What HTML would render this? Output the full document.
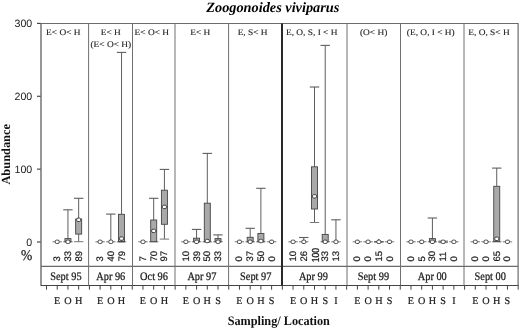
<!DOCTYPE html>
<html><head><meta charset="utf-8"><style>
html,body{margin:0;padding:0;background:#fff;}
body{width:520px;height:328px;overflow:hidden;}
svg{display:block;filter:grayscale(1);text-rendering:geometricPrecision;}
</style></head><body>
<svg width="520" height="328" viewBox="0 0 520 328">
<rect width="520" height="328" fill="#fff"/>
<text x="272.8" y="11.7" font-family="'Liberation Serif', serif" font-size="14.3" font-weight="bold" font-style="italic" text-anchor="middle" fill="#000">Zoogonoides viviparus</text>
<text x="32.2" y="27.20" font-family="'Liberation Sans', sans-serif" font-size="10.6" text-anchor="end" fill="#222">300</text>
<line x1="37" y1="23.40" x2="41.0" y2="23.40" stroke="#3a3a3a" stroke-width="1.1"/>
<text x="32.2" y="100.07" font-family="'Liberation Sans', sans-serif" font-size="10.6" text-anchor="end" fill="#222">200</text>
<line x1="37" y1="96.27" x2="41.0" y2="96.27" stroke="#3a3a3a" stroke-width="1.1"/>
<text x="32.2" y="172.93" font-family="'Liberation Sans', sans-serif" font-size="10.6" text-anchor="end" fill="#222">100</text>
<line x1="37" y1="169.13" x2="41.0" y2="169.13" stroke="#3a3a3a" stroke-width="1.1"/>
<text x="32.2" y="245.80" font-family="'Liberation Sans', sans-serif" font-size="10.6" text-anchor="end" fill="#222">0</text>
<line x1="37" y1="242.00" x2="41.0" y2="242.00" stroke="#3a3a3a" stroke-width="1.1"/>
<text transform="translate(26.5,260.0) scale(0.9,1)" font-family="'Liberation Serif', serif" font-size="15" text-anchor="middle" fill="#1a1a1a" stroke="#1a1a1a" stroke-width="0.2">%</text>
<text transform="translate(9.6,154.3) rotate(-90)" font-family="'Liberation Serif', serif" font-size="12.4" font-weight="bold" text-anchor="middle" fill="#111">Abundance</text>
<text transform="translate(278.8,324.6) scale(0.94,1)" font-family="'Liberation Serif', serif" font-size="13" font-weight="bold" text-anchor="middle" fill="#111">Sampling/ Location</text>
<line x1="41.0" y1="23.5" x2="518.1" y2="23.5" stroke="#6a6a6a" stroke-width="1.2"/>
<line x1="41.0" y1="22.9" x2="41.0" y2="286.1" stroke="#6a6a6a" stroke-width="1.4"/>
<line x1="518.1" y1="22.9" x2="518.1" y2="286.1" stroke="#6a6a6a" stroke-width="1.2"/>
<line x1="41.0" y1="285.5" x2="518.1" y2="285.5" stroke="#444" stroke-width="1.2"/>
<line x1="41.0" y1="266.4" x2="518.1" y2="266.4" stroke="#6a6a6a" stroke-width="1.2"/>
<line x1="88.6" y1="23.5" x2="88.6" y2="285.5" stroke="#707070" stroke-width="1.0"/>
<line x1="132.5" y1="23.5" x2="132.5" y2="285.5" stroke="#707070" stroke-width="1.0"/>
<line x1="175.0" y1="23.5" x2="175.0" y2="285.5" stroke="#707070" stroke-width="1.0"/>
<line x1="228.6" y1="23.5" x2="228.6" y2="285.5" stroke="#707070" stroke-width="1.0"/>
<line x1="282.0" y1="23.5" x2="282.0" y2="285.5" stroke="#1e1e1e" stroke-width="1.9"/>
<line x1="347.0" y1="23.5" x2="347.0" y2="285.5" stroke="#707070" stroke-width="1.0"/>
<line x1="400.5" y1="23.5" x2="400.5" y2="285.5" stroke="#707070" stroke-width="1.0"/>
<line x1="464.0" y1="23.5" x2="464.0" y2="285.5" stroke="#707070" stroke-width="1.0"/>
<line x1="46.50" y1="285.5" x2="46.50" y2="289.7" stroke="#444" stroke-width="1"/>
<line x1="57.22" y1="285.5" x2="57.22" y2="289.7" stroke="#444" stroke-width="1"/>
<line x1="67.94" y1="285.5" x2="67.94" y2="289.7" stroke="#444" stroke-width="1"/>
<line x1="78.66" y1="285.5" x2="78.66" y2="289.7" stroke="#444" stroke-width="1"/>
<line x1="89.38" y1="285.5" x2="89.38" y2="289.7" stroke="#444" stroke-width="1"/>
<line x1="100.10" y1="285.5" x2="100.10" y2="289.7" stroke="#444" stroke-width="1"/>
<line x1="110.82" y1="285.5" x2="110.82" y2="289.7" stroke="#444" stroke-width="1"/>
<line x1="121.54" y1="285.5" x2="121.54" y2="289.7" stroke="#444" stroke-width="1"/>
<line x1="132.26" y1="285.5" x2="132.26" y2="289.7" stroke="#444" stroke-width="1"/>
<line x1="142.98" y1="285.5" x2="142.98" y2="289.7" stroke="#444" stroke-width="1"/>
<line x1="153.70" y1="285.5" x2="153.70" y2="289.7" stroke="#444" stroke-width="1"/>
<line x1="164.42" y1="285.5" x2="164.42" y2="289.7" stroke="#444" stroke-width="1"/>
<line x1="175.14" y1="285.5" x2="175.14" y2="289.7" stroke="#444" stroke-width="1"/>
<line x1="185.86" y1="285.5" x2="185.86" y2="289.7" stroke="#444" stroke-width="1"/>
<line x1="196.58" y1="285.5" x2="196.58" y2="289.7" stroke="#444" stroke-width="1"/>
<line x1="207.30" y1="285.5" x2="207.30" y2="289.7" stroke="#444" stroke-width="1"/>
<line x1="218.02" y1="285.5" x2="218.02" y2="289.7" stroke="#444" stroke-width="1"/>
<line x1="228.74" y1="285.5" x2="228.74" y2="289.7" stroke="#444" stroke-width="1"/>
<line x1="239.46" y1="285.5" x2="239.46" y2="289.7" stroke="#444" stroke-width="1"/>
<line x1="250.18" y1="285.5" x2="250.18" y2="289.7" stroke="#444" stroke-width="1"/>
<line x1="260.90" y1="285.5" x2="260.90" y2="289.7" stroke="#444" stroke-width="1"/>
<line x1="271.62" y1="285.5" x2="271.62" y2="289.7" stroke="#444" stroke-width="1"/>
<line x1="282.34" y1="285.5" x2="282.34" y2="289.7" stroke="#444" stroke-width="1"/>
<line x1="293.06" y1="285.5" x2="293.06" y2="289.7" stroke="#444" stroke-width="1"/>
<line x1="303.78" y1="285.5" x2="303.78" y2="289.7" stroke="#444" stroke-width="1"/>
<line x1="314.50" y1="285.5" x2="314.50" y2="289.7" stroke="#444" stroke-width="1"/>
<line x1="325.22" y1="285.5" x2="325.22" y2="289.7" stroke="#444" stroke-width="1"/>
<line x1="335.94" y1="285.5" x2="335.94" y2="289.7" stroke="#444" stroke-width="1"/>
<line x1="346.66" y1="285.5" x2="346.66" y2="289.7" stroke="#444" stroke-width="1"/>
<line x1="357.38" y1="285.5" x2="357.38" y2="289.7" stroke="#444" stroke-width="1"/>
<line x1="368.10" y1="285.5" x2="368.10" y2="289.7" stroke="#444" stroke-width="1"/>
<line x1="378.82" y1="285.5" x2="378.82" y2="289.7" stroke="#444" stroke-width="1"/>
<line x1="389.54" y1="285.5" x2="389.54" y2="289.7" stroke="#444" stroke-width="1"/>
<line x1="400.26" y1="285.5" x2="400.26" y2="289.7" stroke="#444" stroke-width="1"/>
<line x1="410.98" y1="285.5" x2="410.98" y2="289.7" stroke="#444" stroke-width="1"/>
<line x1="421.70" y1="285.5" x2="421.70" y2="289.7" stroke="#444" stroke-width="1"/>
<line x1="432.42" y1="285.5" x2="432.42" y2="289.7" stroke="#444" stroke-width="1"/>
<line x1="443.14" y1="285.5" x2="443.14" y2="289.7" stroke="#444" stroke-width="1"/>
<line x1="453.86" y1="285.5" x2="453.86" y2="289.7" stroke="#444" stroke-width="1"/>
<line x1="464.58" y1="285.5" x2="464.58" y2="289.7" stroke="#444" stroke-width="1"/>
<line x1="475.30" y1="285.5" x2="475.30" y2="289.7" stroke="#444" stroke-width="1"/>
<line x1="486.02" y1="285.5" x2="486.02" y2="289.7" stroke="#444" stroke-width="1"/>
<line x1="496.74" y1="285.5" x2="496.74" y2="289.7" stroke="#444" stroke-width="1"/>
<line x1="507.46" y1="285.5" x2="507.46" y2="289.7" stroke="#444" stroke-width="1"/>
<line x1="518.18" y1="285.5" x2="518.18" y2="289.7" stroke="#444" stroke-width="1"/>
<text transform="translate(63.3,35.0) scale(1.1,1)" font-family="'Liberation Serif', serif" font-size="8.5" text-anchor="middle" fill="#222" stroke="#222" stroke-width="0.12">E&lt; O&lt; H</text>
<text transform="translate(65.9,280.2) scale(0.9,1)" font-family="'Liberation Serif', serif" font-size="11.5" text-anchor="middle" fill="#1a1a1a" stroke="#1a1a1a" stroke-width="0.25">Sept 95</text>
<text x="57.22" y="303.9" font-family="'Liberation Serif', serif" font-size="10.2" text-anchor="middle" fill="#1a1a1a" stroke="#1a1a1a" stroke-width="0.2">E</text>
<text transform="translate(60.22,261.6) rotate(-90)" font-family="'Liberation Sans', sans-serif" font-size="9.5" text-anchor="start" fill="#1a1a1a" stroke="#1a1a1a" stroke-width="0.2">3</text>
<text x="67.94" y="303.9" font-family="'Liberation Serif', serif" font-size="10.2" text-anchor="middle" fill="#1a1a1a" stroke="#1a1a1a" stroke-width="0.2">O</text>
<text transform="translate(70.94,261.6) rotate(-90)" font-family="'Liberation Sans', sans-serif" font-size="9.5" text-anchor="start" fill="#1a1a1a" stroke="#1a1a1a" stroke-width="0.2">33</text>
<text x="78.66" y="303.9" font-family="'Liberation Serif', serif" font-size="10.2" text-anchor="middle" fill="#1a1a1a" stroke="#1a1a1a" stroke-width="0.2">H</text>
<text transform="translate(81.66,261.6) rotate(-90)" font-family="'Liberation Sans', sans-serif" font-size="9.5" text-anchor="start" fill="#1a1a1a" stroke="#1a1a1a" stroke-width="0.2">89</text>
<text transform="translate(110.8,35.0) scale(1.1,1)" font-family="'Liberation Serif', serif" font-size="8.5" text-anchor="middle" fill="#222" stroke="#222" stroke-width="0.12">E&lt; H</text>
<text transform="translate(110.8,47.3) scale(1.1,1)" font-family="'Liberation Serif', serif" font-size="8.5" text-anchor="middle" fill="#222" stroke="#222" stroke-width="0.12">(E&lt; O&lt; H)</text>
<text transform="translate(110.75,280.2) scale(0.9,1)" font-family="'Liberation Serif', serif" font-size="11.5" text-anchor="middle" fill="#1a1a1a" stroke="#1a1a1a" stroke-width="0.25">Apr 96</text>
<text x="100.10" y="303.9" font-family="'Liberation Serif', serif" font-size="10.2" text-anchor="middle" fill="#1a1a1a" stroke="#1a1a1a" stroke-width="0.2">E</text>
<text transform="translate(103.10,261.6) rotate(-90)" font-family="'Liberation Sans', sans-serif" font-size="9.5" text-anchor="start" fill="#1a1a1a" stroke="#1a1a1a" stroke-width="0.2">3</text>
<text x="110.82" y="303.9" font-family="'Liberation Serif', serif" font-size="10.2" text-anchor="middle" fill="#1a1a1a" stroke="#1a1a1a" stroke-width="0.2">O</text>
<text transform="translate(113.82,261.6) rotate(-90)" font-family="'Liberation Sans', sans-serif" font-size="9.5" text-anchor="start" fill="#1a1a1a" stroke="#1a1a1a" stroke-width="0.2">40</text>
<text x="121.54" y="303.9" font-family="'Liberation Serif', serif" font-size="10.2" text-anchor="middle" fill="#1a1a1a" stroke="#1a1a1a" stroke-width="0.2">H</text>
<text transform="translate(124.54,261.6) rotate(-90)" font-family="'Liberation Sans', sans-serif" font-size="9.5" text-anchor="start" fill="#1a1a1a" stroke="#1a1a1a" stroke-width="0.2">79</text>
<text transform="translate(151.8,35.0) scale(1.1,1)" font-family="'Liberation Serif', serif" font-size="8.5" text-anchor="middle" fill="#222" stroke="#222" stroke-width="0.12">E&lt; O&lt; H</text>
<text transform="translate(154.0,280.2) scale(0.9,1)" font-family="'Liberation Serif', serif" font-size="11.5" text-anchor="middle" fill="#1a1a1a" stroke="#1a1a1a" stroke-width="0.25">Oct 96</text>
<text x="142.98" y="303.9" font-family="'Liberation Serif', serif" font-size="10.2" text-anchor="middle" fill="#1a1a1a" stroke="#1a1a1a" stroke-width="0.2">E</text>
<text transform="translate(145.98,261.6) rotate(-90)" font-family="'Liberation Sans', sans-serif" font-size="9.5" text-anchor="start" fill="#1a1a1a" stroke="#1a1a1a" stroke-width="0.2">7</text>
<text x="153.70" y="303.9" font-family="'Liberation Serif', serif" font-size="10.2" text-anchor="middle" fill="#1a1a1a" stroke="#1a1a1a" stroke-width="0.2">O</text>
<text transform="translate(156.70,261.6) rotate(-90)" font-family="'Liberation Sans', sans-serif" font-size="9.5" text-anchor="start" fill="#1a1a1a" stroke="#1a1a1a" stroke-width="0.2">70</text>
<text x="164.42" y="303.9" font-family="'Liberation Serif', serif" font-size="10.2" text-anchor="middle" fill="#1a1a1a" stroke="#1a1a1a" stroke-width="0.2">H</text>
<text transform="translate(167.42,261.6) rotate(-90)" font-family="'Liberation Sans', sans-serif" font-size="9.5" text-anchor="start" fill="#1a1a1a" stroke="#1a1a1a" stroke-width="0.2">97</text>
<text transform="translate(200.3,35.0) scale(1.1,1)" font-family="'Liberation Serif', serif" font-size="8.5" text-anchor="middle" fill="#222" stroke="#222" stroke-width="0.12">E&lt; H</text>
<text transform="translate(201.9,280.2) scale(0.9,1)" font-family="'Liberation Serif', serif" font-size="11.5" text-anchor="middle" fill="#1a1a1a" stroke="#1a1a1a" stroke-width="0.25">Apr 97</text>
<text x="185.86" y="303.9" font-family="'Liberation Serif', serif" font-size="10.2" text-anchor="middle" fill="#1a1a1a" stroke="#1a1a1a" stroke-width="0.2">E</text>
<text transform="translate(188.86,261.6) rotate(-90)" font-family="'Liberation Sans', sans-serif" font-size="9.5" text-anchor="start" fill="#1a1a1a" stroke="#1a1a1a" stroke-width="0.2">10</text>
<text x="196.58" y="303.9" font-family="'Liberation Serif', serif" font-size="10.2" text-anchor="middle" fill="#1a1a1a" stroke="#1a1a1a" stroke-width="0.2">O</text>
<text transform="translate(199.58,261.6) rotate(-90)" font-family="'Liberation Sans', sans-serif" font-size="9.5" text-anchor="start" fill="#1a1a1a" stroke="#1a1a1a" stroke-width="0.2">39</text>
<text x="207.30" y="303.9" font-family="'Liberation Serif', serif" font-size="10.2" text-anchor="middle" fill="#1a1a1a" stroke="#1a1a1a" stroke-width="0.2">H</text>
<text transform="translate(210.30,261.6) rotate(-90)" font-family="'Liberation Sans', sans-serif" font-size="9.5" text-anchor="start" fill="#1a1a1a" stroke="#1a1a1a" stroke-width="0.2">50</text>
<text x="218.02" y="303.9" font-family="'Liberation Serif', serif" font-size="10.2" text-anchor="middle" fill="#1a1a1a" stroke="#1a1a1a" stroke-width="0.2">S</text>
<text transform="translate(221.02,261.6) rotate(-90)" font-family="'Liberation Sans', sans-serif" font-size="9.5" text-anchor="start" fill="#1a1a1a" stroke="#1a1a1a" stroke-width="0.2">33</text>
<text transform="translate(252.6,35.0) scale(1.1,1)" font-family="'Liberation Serif', serif" font-size="8.5" text-anchor="middle" fill="#222" stroke="#222" stroke-width="0.12">E, S&lt; H</text>
<text transform="translate(255.7,280.2) scale(0.9,1)" font-family="'Liberation Serif', serif" font-size="11.5" text-anchor="middle" fill="#1a1a1a" stroke="#1a1a1a" stroke-width="0.25">Sept 97</text>
<text x="239.46" y="303.9" font-family="'Liberation Serif', serif" font-size="10.2" text-anchor="middle" fill="#1a1a1a" stroke="#1a1a1a" stroke-width="0.2">E</text>
<text transform="translate(242.46,261.6) rotate(-90)" font-family="'Liberation Sans', sans-serif" font-size="9.5" text-anchor="start" fill="#1a1a1a" stroke="#1a1a1a" stroke-width="0.2">0</text>
<text x="250.18" y="303.9" font-family="'Liberation Serif', serif" font-size="10.2" text-anchor="middle" fill="#1a1a1a" stroke="#1a1a1a" stroke-width="0.2">O</text>
<text transform="translate(253.18,261.6) rotate(-90)" font-family="'Liberation Sans', sans-serif" font-size="9.5" text-anchor="start" fill="#1a1a1a" stroke="#1a1a1a" stroke-width="0.2">37</text>
<text x="260.90" y="303.9" font-family="'Liberation Serif', serif" font-size="10.2" text-anchor="middle" fill="#1a1a1a" stroke="#1a1a1a" stroke-width="0.2">H</text>
<text transform="translate(263.90,261.6) rotate(-90)" font-family="'Liberation Sans', sans-serif" font-size="9.5" text-anchor="start" fill="#1a1a1a" stroke="#1a1a1a" stroke-width="0.2">50</text>
<text x="271.62" y="303.9" font-family="'Liberation Serif', serif" font-size="10.2" text-anchor="middle" fill="#1a1a1a" stroke="#1a1a1a" stroke-width="0.2">S</text>
<text transform="translate(274.62,261.6) rotate(-90)" font-family="'Liberation Sans', sans-serif" font-size="9.5" text-anchor="start" fill="#1a1a1a" stroke="#1a1a1a" stroke-width="0.2">0</text>
<text transform="translate(311.7,35.0) scale(1.1,1)" font-family="'Liberation Serif', serif" font-size="8.5" text-anchor="middle" fill="#222" stroke="#222" stroke-width="0.12">E, O, S, I &lt; H</text>
<text transform="translate(313.4,280.2) scale(0.9,1)" font-family="'Liberation Serif', serif" font-size="11.5" text-anchor="middle" fill="#1a1a1a" stroke="#1a1a1a" stroke-width="0.25">Apr 99</text>
<text x="293.06" y="303.9" font-family="'Liberation Serif', serif" font-size="10.2" text-anchor="middle" fill="#1a1a1a" stroke="#1a1a1a" stroke-width="0.2">E</text>
<text transform="translate(296.06,261.6) rotate(-90)" font-family="'Liberation Sans', sans-serif" font-size="9.5" text-anchor="start" fill="#1a1a1a" stroke="#1a1a1a" stroke-width="0.2">10</text>
<text x="303.78" y="303.9" font-family="'Liberation Serif', serif" font-size="10.2" text-anchor="middle" fill="#1a1a1a" stroke="#1a1a1a" stroke-width="0.2">O</text>
<text transform="translate(306.78,261.6) rotate(-90)" font-family="'Liberation Sans', sans-serif" font-size="9.5" text-anchor="start" fill="#1a1a1a" stroke="#1a1a1a" stroke-width="0.2">26</text>
<text x="314.50" y="303.9" font-family="'Liberation Serif', serif" font-size="10.2" text-anchor="middle" fill="#1a1a1a" stroke="#1a1a1a" stroke-width="0.2">H</text>
<text transform="translate(318.90,262.2) rotate(-90) scale(0.9,1.08)" font-family="'Liberation Sans', sans-serif" font-size="9.5" text-anchor="start" fill="#1a1a1a" stroke="#1a1a1a" stroke-width="0.2">100</text>
<text x="325.22" y="303.9" font-family="'Liberation Serif', serif" font-size="10.2" text-anchor="middle" fill="#1a1a1a" stroke="#1a1a1a" stroke-width="0.2">S</text>
<text transform="translate(328.22,261.6) rotate(-90)" font-family="'Liberation Sans', sans-serif" font-size="9.5" text-anchor="start" fill="#1a1a1a" stroke="#1a1a1a" stroke-width="0.2">33</text>
<text x="335.94" y="303.9" font-family="'Liberation Serif', serif" font-size="10.2" text-anchor="middle" fill="#1a1a1a" stroke="#1a1a1a" stroke-width="0.2">I</text>
<text transform="translate(338.94,261.6) rotate(-90)" font-family="'Liberation Sans', sans-serif" font-size="9.5" text-anchor="start" fill="#1a1a1a" stroke="#1a1a1a" stroke-width="0.2">13</text>
<text transform="translate(373.6,35.0) scale(1.1,1)" font-family="'Liberation Serif', serif" font-size="8.5" text-anchor="middle" fill="#222" stroke="#222" stroke-width="0.12">(O&lt; H)</text>
<text transform="translate(373.4,280.2) scale(0.9,1)" font-family="'Liberation Serif', serif" font-size="11.5" text-anchor="middle" fill="#1a1a1a" stroke="#1a1a1a" stroke-width="0.25">Sept 99</text>
<text x="357.38" y="303.9" font-family="'Liberation Serif', serif" font-size="10.2" text-anchor="middle" fill="#1a1a1a" stroke="#1a1a1a" stroke-width="0.2">E</text>
<text transform="translate(360.38,261.6) rotate(-90)" font-family="'Liberation Sans', sans-serif" font-size="9.5" text-anchor="start" fill="#1a1a1a" stroke="#1a1a1a" stroke-width="0.2">0</text>
<text x="368.10" y="303.9" font-family="'Liberation Serif', serif" font-size="10.2" text-anchor="middle" fill="#1a1a1a" stroke="#1a1a1a" stroke-width="0.2">O</text>
<text transform="translate(371.10,261.6) rotate(-90)" font-family="'Liberation Sans', sans-serif" font-size="9.5" text-anchor="start" fill="#1a1a1a" stroke="#1a1a1a" stroke-width="0.2">0</text>
<text x="378.82" y="303.9" font-family="'Liberation Serif', serif" font-size="10.2" text-anchor="middle" fill="#1a1a1a" stroke="#1a1a1a" stroke-width="0.2">H</text>
<text transform="translate(381.82,261.6) rotate(-90)" font-family="'Liberation Sans', sans-serif" font-size="9.5" text-anchor="start" fill="#1a1a1a" stroke="#1a1a1a" stroke-width="0.2">15</text>
<text x="389.54" y="303.9" font-family="'Liberation Serif', serif" font-size="10.2" text-anchor="middle" fill="#1a1a1a" stroke="#1a1a1a" stroke-width="0.2">S</text>
<text transform="translate(392.54,261.6) rotate(-90)" font-family="'Liberation Sans', sans-serif" font-size="9.5" text-anchor="start" fill="#1a1a1a" stroke="#1a1a1a" stroke-width="0.2">0</text>
<text transform="translate(430.8,35.0) scale(1.1,1)" font-family="'Liberation Serif', serif" font-size="8.5" text-anchor="middle" fill="#222" stroke="#222" stroke-width="0.12">(E, O, I &lt; H)</text>
<text transform="translate(432.25,280.2) scale(0.9,1)" font-family="'Liberation Serif', serif" font-size="11.5" text-anchor="middle" fill="#1a1a1a" stroke="#1a1a1a" stroke-width="0.25">Apr 00</text>
<text x="410.98" y="303.9" font-family="'Liberation Serif', serif" font-size="10.2" text-anchor="middle" fill="#1a1a1a" stroke="#1a1a1a" stroke-width="0.2">E</text>
<text transform="translate(413.98,261.6) rotate(-90)" font-family="'Liberation Sans', sans-serif" font-size="9.5" text-anchor="start" fill="#1a1a1a" stroke="#1a1a1a" stroke-width="0.2">0</text>
<text x="421.70" y="303.9" font-family="'Liberation Serif', serif" font-size="10.2" text-anchor="middle" fill="#1a1a1a" stroke="#1a1a1a" stroke-width="0.2">O</text>
<text transform="translate(424.70,261.6) rotate(-90)" font-family="'Liberation Sans', sans-serif" font-size="9.5" text-anchor="start" fill="#1a1a1a" stroke="#1a1a1a" stroke-width="0.2">5</text>
<text x="432.42" y="303.9" font-family="'Liberation Serif', serif" font-size="10.2" text-anchor="middle" fill="#1a1a1a" stroke="#1a1a1a" stroke-width="0.2">H</text>
<text transform="translate(435.42,261.6) rotate(-90)" font-family="'Liberation Sans', sans-serif" font-size="9.5" text-anchor="start" fill="#1a1a1a" stroke="#1a1a1a" stroke-width="0.2">30</text>
<text x="443.14" y="303.9" font-family="'Liberation Serif', serif" font-size="10.2" text-anchor="middle" fill="#1a1a1a" stroke="#1a1a1a" stroke-width="0.2">S</text>
<text transform="translate(446.14,261.6) rotate(-90)" font-family="'Liberation Sans', sans-serif" font-size="9.5" text-anchor="start" fill="#1a1a1a" stroke="#1a1a1a" stroke-width="0.2">11</text>
<text x="453.86" y="303.9" font-family="'Liberation Serif', serif" font-size="10.2" text-anchor="middle" fill="#1a1a1a" stroke="#1a1a1a" stroke-width="0.2">I</text>
<text transform="translate(456.86,261.6) rotate(-90)" font-family="'Liberation Sans', sans-serif" font-size="9.5" text-anchor="start" fill="#1a1a1a" stroke="#1a1a1a" stroke-width="0.2">0</text>
<text transform="translate(489.0,35.0) scale(1.1,1)" font-family="'Liberation Serif', serif" font-size="8.5" text-anchor="middle" fill="#222" stroke="#222" stroke-width="0.12">E, O, S&lt; H</text>
<text transform="translate(490.2,280.2) scale(0.9,1)" font-family="'Liberation Serif', serif" font-size="11.5" text-anchor="middle" fill="#1a1a1a" stroke="#1a1a1a" stroke-width="0.25">Sept 00</text>
<text x="475.30" y="303.9" font-family="'Liberation Serif', serif" font-size="10.2" text-anchor="middle" fill="#1a1a1a" stroke="#1a1a1a" stroke-width="0.2">E</text>
<text transform="translate(478.30,261.6) rotate(-90)" font-family="'Liberation Sans', sans-serif" font-size="9.5" text-anchor="start" fill="#1a1a1a" stroke="#1a1a1a" stroke-width="0.2">0</text>
<text x="486.02" y="303.9" font-family="'Liberation Serif', serif" font-size="10.2" text-anchor="middle" fill="#1a1a1a" stroke="#1a1a1a" stroke-width="0.2">O</text>
<text transform="translate(489.02,261.6) rotate(-90)" font-family="'Liberation Sans', sans-serif" font-size="9.5" text-anchor="start" fill="#1a1a1a" stroke="#1a1a1a" stroke-width="0.2">0</text>
<text x="496.74" y="303.9" font-family="'Liberation Serif', serif" font-size="10.2" text-anchor="middle" fill="#1a1a1a" stroke="#1a1a1a" stroke-width="0.2">H</text>
<text transform="translate(499.74,261.6) rotate(-90)" font-family="'Liberation Sans', sans-serif" font-size="9.5" text-anchor="start" fill="#1a1a1a" stroke="#1a1a1a" stroke-width="0.2">65</text>
<text x="507.46" y="303.9" font-family="'Liberation Serif', serif" font-size="10.2" text-anchor="middle" fill="#1a1a1a" stroke="#1a1a1a" stroke-width="0.2">S</text>
<text transform="translate(510.46,261.6) rotate(-90)" font-family="'Liberation Sans', sans-serif" font-size="9.5" text-anchor="start" fill="#1a1a1a" stroke="#1a1a1a" stroke-width="0.2">0</text>
<line x1="52.52" y1="241.8" x2="61.92" y2="241.8" stroke="#777" stroke-width="1.0"/>
<rect x="55.22" y="240.10" width="4.0" height="3.4" rx="1.3" ry="1.3" fill="#fff" stroke="#333" stroke-width="0.9"/>
<line x1="67.94" y1="209.8" x2="67.94" y2="238.6" stroke="#5e5e5e" stroke-width="1"/>
<line x1="63.24" y1="209.8" x2="72.64" y2="209.8" stroke="#5e5e5e" stroke-width="1.1"/>
<line x1="63.24" y1="241.8" x2="72.64" y2="241.8" stroke="#777" stroke-width="1.0"/>
<rect x="64.94" y="238.6" width="6.0" height="3.20" fill="#a9a9a9" stroke="#444" stroke-width="0.9"/>
<rect x="65.94" y="240.10" width="4.0" height="3.4" rx="1.3" ry="1.3" fill="#fff" stroke="#333" stroke-width="0.9"/>
<line x1="78.66" y1="198.3" x2="78.66" y2="219.0" stroke="#5e5e5e" stroke-width="1"/>
<line x1="73.96" y1="198.3" x2="83.36" y2="198.3" stroke="#5e5e5e" stroke-width="1.1"/>
<line x1="78.66" y1="234.1" x2="78.66" y2="241.7" stroke="#5e5e5e" stroke-width="1"/>
<line x1="73.96" y1="241.7" x2="83.36" y2="241.7" stroke="#777" stroke-width="1.0"/>
<rect x="75.66" y="219.0" width="6.0" height="15.10" fill="#a9a9a9" stroke="#444" stroke-width="0.9"/>
<rect x="76.66" y="218.10" width="4.0" height="3.4" rx="1.3" ry="1.3" fill="#fff" stroke="#333" stroke-width="0.9"/>
<line x1="95.40" y1="241.8" x2="104.80" y2="241.8" stroke="#777" stroke-width="1.0"/>
<rect x="98.10" y="240.10" width="4.0" height="3.4" rx="1.3" ry="1.3" fill="#fff" stroke="#333" stroke-width="0.9"/>
<line x1="110.82" y1="214.1" x2="110.82" y2="241.8" stroke="#5e5e5e" stroke-width="1"/>
<line x1="106.12" y1="214.1" x2="115.52" y2="214.1" stroke="#5e5e5e" stroke-width="1.1"/>
<line x1="106.12" y1="241.8" x2="115.52" y2="241.8" stroke="#777" stroke-width="1.0"/>
<rect x="108.82" y="240.10" width="4.0" height="3.4" rx="1.3" ry="1.3" fill="#fff" stroke="#333" stroke-width="0.9"/>
<line x1="121.54" y1="52.4" x2="121.54" y2="214.3" stroke="#5e5e5e" stroke-width="1"/>
<line x1="116.84" y1="52.4" x2="126.24" y2="52.4" stroke="#5e5e5e" stroke-width="1.1"/>
<line x1="116.84" y1="241.8" x2="126.24" y2="241.8" stroke="#777" stroke-width="1.0"/>
<rect x="118.54" y="214.3" width="6.0" height="27.50" fill="#a9a9a9" stroke="#444" stroke-width="0.9"/>
<line x1="118.54" y1="241.6" x2="124.54" y2="241.6" stroke="#444" stroke-width="1"/>
<rect x="119.54" y="236.90" width="4.0" height="3.4" rx="1.3" ry="1.3" fill="#fff" stroke="#333" stroke-width="0.9"/>
<line x1="138.28" y1="241.8" x2="147.68" y2="241.8" stroke="#777" stroke-width="1.0"/>
<rect x="140.98" y="240.10" width="4.0" height="3.4" rx="1.3" ry="1.3" fill="#fff" stroke="#333" stroke-width="0.9"/>
<line x1="153.70" y1="198.3" x2="153.70" y2="220.0" stroke="#5e5e5e" stroke-width="1"/>
<line x1="149.00" y1="198.3" x2="158.40" y2="198.3" stroke="#5e5e5e" stroke-width="1.1"/>
<line x1="149.00" y1="241.8" x2="158.40" y2="241.8" stroke="#777" stroke-width="1.0"/>
<rect x="150.70" y="220.0" width="6.0" height="21.70" fill="#a9a9a9" stroke="#444" stroke-width="0.9"/>
<line x1="150.70" y1="230.9" x2="156.70" y2="230.9" stroke="#444" stroke-width="1"/>
<rect x="151.70" y="229.20" width="4.0" height="3.4" rx="1.3" ry="1.3" fill="#fff" stroke="#333" stroke-width="0.9"/>
<line x1="164.42" y1="169.4" x2="164.42" y2="190.2" stroke="#5e5e5e" stroke-width="1"/>
<line x1="159.72" y1="169.4" x2="169.12" y2="169.4" stroke="#5e5e5e" stroke-width="1.1"/>
<line x1="164.42" y1="224.3" x2="164.42" y2="239.1" stroke="#5e5e5e" stroke-width="1"/>
<line x1="159.72" y1="239.1" x2="169.12" y2="239.1" stroke="#777" stroke-width="1.0"/>
<rect x="161.42" y="190.2" width="6.0" height="34.10" fill="#a9a9a9" stroke="#444" stroke-width="0.9"/>
<line x1="161.42" y1="206.9" x2="167.42" y2="206.9" stroke="#444" stroke-width="1"/>
<rect x="162.42" y="205.20" width="4.0" height="3.4" rx="1.3" ry="1.3" fill="#fff" stroke="#333" stroke-width="0.9"/>
<line x1="181.16" y1="241.8" x2="190.56" y2="241.8" stroke="#777" stroke-width="1.0"/>
<rect x="183.86" y="240.10" width="4.0" height="3.4" rx="1.3" ry="1.3" fill="#fff" stroke="#333" stroke-width="0.9"/>
<line x1="196.58" y1="229.4" x2="196.58" y2="238.2" stroke="#5e5e5e" stroke-width="1"/>
<line x1="191.88" y1="229.4" x2="201.28" y2="229.4" stroke="#5e5e5e" stroke-width="1.1"/>
<line x1="191.88" y1="241.8" x2="201.28" y2="241.8" stroke="#777" stroke-width="1.0"/>
<rect x="193.58" y="238.2" width="6.0" height="3.60" fill="#a9a9a9" stroke="#444" stroke-width="0.9"/>
<rect x="194.58" y="240.10" width="4.0" height="3.4" rx="1.3" ry="1.3" fill="#fff" stroke="#333" stroke-width="0.9"/>
<line x1="207.30" y1="153.4" x2="207.30" y2="203.2" stroke="#5e5e5e" stroke-width="1"/>
<line x1="202.60" y1="153.4" x2="212.00" y2="153.4" stroke="#5e5e5e" stroke-width="1.1"/>
<line x1="202.60" y1="241.8" x2="212.00" y2="241.8" stroke="#777" stroke-width="1.0"/>
<rect x="204.30" y="203.2" width="6.0" height="38.60" fill="#a9a9a9" stroke="#444" stroke-width="0.9"/>
<rect x="205.30" y="239.30" width="4.0" height="3.4" rx="1.3" ry="1.3" fill="#fff" stroke="#333" stroke-width="0.9"/>
<line x1="218.02" y1="234.9" x2="218.02" y2="238.6" stroke="#5e5e5e" stroke-width="1"/>
<line x1="213.32" y1="234.9" x2="222.72" y2="234.9" stroke="#5e5e5e" stroke-width="1.1"/>
<line x1="213.32" y1="241.8" x2="222.72" y2="241.8" stroke="#777" stroke-width="1.0"/>
<rect x="215.02" y="238.6" width="6.0" height="3.20" fill="#a9a9a9" stroke="#444" stroke-width="0.9"/>
<rect x="216.02" y="240.10" width="4.0" height="3.4" rx="1.3" ry="1.3" fill="#fff" stroke="#333" stroke-width="0.9"/>
<line x1="234.76" y1="241.8" x2="244.16" y2="241.8" stroke="#777" stroke-width="1.0"/>
<rect x="237.46" y="240.10" width="4.0" height="3.4" rx="1.3" ry="1.3" fill="#fff" stroke="#333" stroke-width="0.9"/>
<line x1="250.18" y1="228.3" x2="250.18" y2="237.3" stroke="#5e5e5e" stroke-width="1"/>
<line x1="245.48" y1="228.3" x2="254.88" y2="228.3" stroke="#5e5e5e" stroke-width="1.1"/>
<line x1="245.48" y1="241.8" x2="254.88" y2="241.8" stroke="#777" stroke-width="1.0"/>
<rect x="247.18" y="237.3" width="6.0" height="4.50" fill="#a9a9a9" stroke="#444" stroke-width="0.9"/>
<rect x="248.18" y="240.10" width="4.0" height="3.4" rx="1.3" ry="1.3" fill="#fff" stroke="#333" stroke-width="0.9"/>
<line x1="260.90" y1="188.3" x2="260.90" y2="233.5" stroke="#5e5e5e" stroke-width="1"/>
<line x1="256.20" y1="188.3" x2="265.60" y2="188.3" stroke="#5e5e5e" stroke-width="1.1"/>
<line x1="256.20" y1="241.8" x2="265.60" y2="241.8" stroke="#777" stroke-width="1.0"/>
<rect x="257.90" y="233.5" width="6.0" height="8.30" fill="#a9a9a9" stroke="#444" stroke-width="0.9"/>
<rect x="258.90" y="239.30" width="4.0" height="3.4" rx="1.3" ry="1.3" fill="#fff" stroke="#333" stroke-width="0.9"/>
<line x1="266.92" y1="241.8" x2="276.32" y2="241.8" stroke="#777" stroke-width="1.0"/>
<rect x="269.62" y="240.10" width="4.0" height="3.4" rx="1.3" ry="1.3" fill="#fff" stroke="#333" stroke-width="0.9"/>
<line x1="288.36" y1="241.8" x2="297.76" y2="241.8" stroke="#777" stroke-width="1.0"/>
<rect x="291.06" y="240.10" width="4.0" height="3.4" rx="1.3" ry="1.3" fill="#fff" stroke="#333" stroke-width="0.9"/>
<line x1="303.78" y1="237.5" x2="303.78" y2="241.8" stroke="#5e5e5e" stroke-width="1"/>
<line x1="299.08" y1="237.5" x2="308.48" y2="237.5" stroke="#5e5e5e" stroke-width="1.1"/>
<line x1="299.08" y1="241.8" x2="308.48" y2="241.8" stroke="#777" stroke-width="1.0"/>
<rect x="301.78" y="240.10" width="4.0" height="3.4" rx="1.3" ry="1.3" fill="#fff" stroke="#333" stroke-width="0.9"/>
<line x1="314.50" y1="87.0" x2="314.50" y2="166.8" stroke="#5e5e5e" stroke-width="1"/>
<line x1="309.80" y1="87.0" x2="319.20" y2="87.0" stroke="#5e5e5e" stroke-width="1.1"/>
<line x1="314.50" y1="209.0" x2="314.50" y2="222.5" stroke="#5e5e5e" stroke-width="1"/>
<line x1="309.80" y1="222.5" x2="319.20" y2="222.5" stroke="#777" stroke-width="1.0"/>
<rect x="311.50" y="166.8" width="6.0" height="42.20" fill="#a9a9a9" stroke="#444" stroke-width="0.9"/>
<line x1="311.50" y1="196.3" x2="317.50" y2="196.3" stroke="#444" stroke-width="1"/>
<rect x="312.50" y="194.60" width="4.0" height="3.4" rx="1.3" ry="1.3" fill="#fff" stroke="#333" stroke-width="0.9"/>
<line x1="325.22" y1="45.4" x2="325.22" y2="234.4" stroke="#5e5e5e" stroke-width="1"/>
<line x1="320.52" y1="45.4" x2="329.92" y2="45.4" stroke="#5e5e5e" stroke-width="1.1"/>
<line x1="320.52" y1="241.8" x2="329.92" y2="241.8" stroke="#777" stroke-width="1.0"/>
<rect x="322.22" y="234.4" width="6.0" height="7.40" fill="#a9a9a9" stroke="#444" stroke-width="0.9"/>
<rect x="323.22" y="240.10" width="4.0" height="3.4" rx="1.3" ry="1.3" fill="#fff" stroke="#333" stroke-width="0.9"/>
<line x1="335.94" y1="219.8" x2="335.94" y2="241.8" stroke="#5e5e5e" stroke-width="1"/>
<line x1="331.24" y1="219.8" x2="340.64" y2="219.8" stroke="#5e5e5e" stroke-width="1.1"/>
<line x1="331.24" y1="241.8" x2="340.64" y2="241.8" stroke="#777" stroke-width="1.0"/>
<rect x="333.94" y="240.10" width="4.0" height="3.4" rx="1.3" ry="1.3" fill="#fff" stroke="#333" stroke-width="0.9"/>
<line x1="352.68" y1="241.8" x2="362.08" y2="241.8" stroke="#777" stroke-width="1.0"/>
<rect x="355.38" y="240.10" width="4.0" height="3.4" rx="1.3" ry="1.3" fill="#fff" stroke="#333" stroke-width="0.9"/>
<line x1="363.40" y1="241.8" x2="372.80" y2="241.8" stroke="#777" stroke-width="1.0"/>
<rect x="366.10" y="240.10" width="4.0" height="3.4" rx="1.3" ry="1.3" fill="#fff" stroke="#333" stroke-width="0.9"/>
<line x1="374.12" y1="241.8" x2="383.52" y2="241.8" stroke="#222" stroke-width="1.2"/>
<line x1="378.82" y1="239.0" x2="378.82" y2="241.8" stroke="#444" stroke-width="1"/>
<line x1="374.12" y1="241.8" x2="383.52" y2="241.8" stroke="#777" stroke-width="1.0"/>
<rect x="376.82" y="240.10" width="4.0" height="3.4" rx="1.3" ry="1.3" fill="#fff" stroke="#333" stroke-width="0.9"/>
<line x1="384.84" y1="241.8" x2="394.24" y2="241.8" stroke="#777" stroke-width="1.0"/>
<rect x="387.54" y="240.10" width="4.0" height="3.4" rx="1.3" ry="1.3" fill="#fff" stroke="#333" stroke-width="0.9"/>
<line x1="406.28" y1="241.8" x2="415.68" y2="241.8" stroke="#777" stroke-width="1.0"/>
<rect x="408.98" y="240.10" width="4.0" height="3.4" rx="1.3" ry="1.3" fill="#fff" stroke="#333" stroke-width="0.9"/>
<line x1="417.00" y1="241.8" x2="426.40" y2="241.8" stroke="#777" stroke-width="1.0"/>
<rect x="419.70" y="240.10" width="4.0" height="3.4" rx="1.3" ry="1.3" fill="#fff" stroke="#333" stroke-width="0.9"/>
<line x1="432.42" y1="218.0" x2="432.42" y2="238.6" stroke="#5e5e5e" stroke-width="1"/>
<line x1="427.72" y1="218.0" x2="437.12" y2="218.0" stroke="#5e5e5e" stroke-width="1.1"/>
<line x1="427.72" y1="241.8" x2="437.12" y2="241.8" stroke="#777" stroke-width="1.0"/>
<rect x="429.42" y="238.6" width="6.0" height="3.20" fill="#a9a9a9" stroke="#444" stroke-width="0.9"/>
<rect x="430.42" y="240.10" width="4.0" height="3.4" rx="1.3" ry="1.3" fill="#fff" stroke="#333" stroke-width="0.9"/>
<rect x="438.44" y="240.4" width="9.4" height="2.8" fill="#999"/>
<line x1="438.44" y1="241.8" x2="447.84" y2="241.8" stroke="#777" stroke-width="1.0"/>
<rect x="441.14" y="240.10" width="4.0" height="3.4" rx="1.3" ry="1.3" fill="#fff" stroke="#333" stroke-width="0.9"/>
<line x1="449.16" y1="241.8" x2="458.56" y2="241.8" stroke="#777" stroke-width="1.0"/>
<rect x="451.86" y="240.10" width="4.0" height="3.4" rx="1.3" ry="1.3" fill="#fff" stroke="#333" stroke-width="0.9"/>
<line x1="470.60" y1="241.8" x2="480.00" y2="241.8" stroke="#777" stroke-width="1.0"/>
<rect x="473.30" y="240.10" width="4.0" height="3.4" rx="1.3" ry="1.3" fill="#fff" stroke="#333" stroke-width="0.9"/>
<line x1="481.32" y1="241.8" x2="490.72" y2="241.8" stroke="#777" stroke-width="1.0"/>
<rect x="484.02" y="240.10" width="4.0" height="3.4" rx="1.3" ry="1.3" fill="#fff" stroke="#333" stroke-width="0.9"/>
<line x1="496.74" y1="168.1" x2="496.74" y2="186.3" stroke="#5e5e5e" stroke-width="1"/>
<line x1="492.04" y1="168.1" x2="501.44" y2="168.1" stroke="#5e5e5e" stroke-width="1.1"/>
<line x1="492.04" y1="241.8" x2="501.44" y2="241.8" stroke="#777" stroke-width="1.0"/>
<rect x="493.74" y="186.3" width="6.0" height="55.30" fill="#a9a9a9" stroke="#444" stroke-width="0.9"/>
<rect x="494.74" y="237.10" width="4.0" height="3.4" rx="1.3" ry="1.3" fill="#fff" stroke="#333" stroke-width="0.9"/>
<line x1="502.76" y1="241.8" x2="512.16" y2="241.8" stroke="#777" stroke-width="1.0"/>
<rect x="505.46" y="240.10" width="4.0" height="3.4" rx="1.3" ry="1.3" fill="#fff" stroke="#333" stroke-width="0.9"/>
</svg>
</body></html>
